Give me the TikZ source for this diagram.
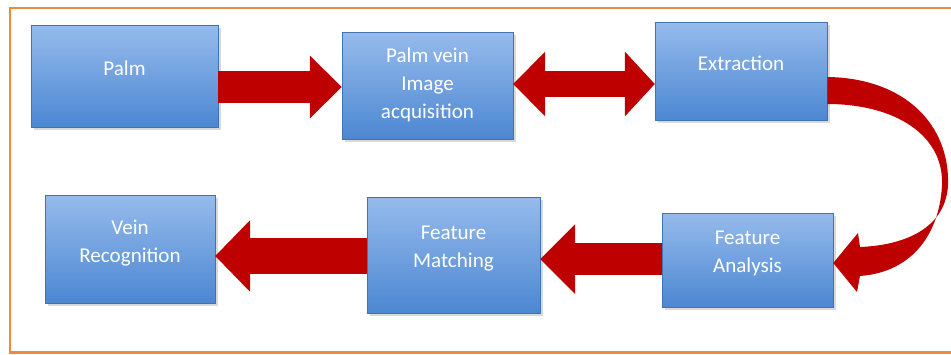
\documentclass[tikz,border=0pt]{standalone}
\usepackage{fontspec}
\setmainfont{Carlito}
\usetikzlibrary{arrows.meta,shadows}
\definecolor{boxtop}{RGB}{150,187,236}
\definecolor{boxbot}{RGB}{76,135,210}
\definecolor{arrowred}{RGB}{190,0,0}
\definecolor{frameorange}{RGB}{236,138,62}
\begin{document}
\begin{tikzpicture}[x=0.02cm, y=-0.02cm,
	box/.style={top color=boxtop, bottom color=boxbot, draw=boxbot!85!black, line width=0.3pt, text=white, align=center, font=\fontsize{12}{16}\selectfont, minimum width=3.44cm, minimum height=2.04cm, text depth=9pt, drop shadow={shadow xshift=1.5pt, shadow yshift=-1.5pt, opacity=0.3}},
	flow/.style={arrowred, line width=#1}]
			\useasboundingbox (0,0) rectangle (951,355);
			\draw[frameorange, line width=0.06cm] (10,8) rectangle (952,352);
			\node[box, minimum width=3.74cm] (palm) at (124.5,76) {Palm};
			\node[box, minimum width=3.42cm, minimum height=2.14cm, text depth=3pt] (acq) at (427.5,85.5) {Palm vein\\Image\\acquisition};
			\node[box, minimum height=1.96cm] (extr) at (741,71) {Extraction};
			\node[box, minimum width=3.4cm, minimum height=2.16cm] (vrec) at (130,249) {Vein\\Recognition};
			\node[box, minimum width=3.46cm, minimum height=2.32cm] (fmatch) at (453.5,255) {Feature\\Matching};
			\node[box, minimum width=3.42cm, minimum height=1.88cm] (fana) at (747.5,260) {Feature\\Analysis};
			\draw[flow=0.66cm, -{Triangle[length=0.64cm, width=1.26cm, line width=0pt]}] (palm.east |- 0,87) -- (acq.west |- 0,87);
			\draw[flow=0.54cm, {Triangle[length=0.64cm, width=1.3cm, line width=0pt]}-{Triangle[length=0.6cm, width=1.3cm, line width=0pt]}] (acq.east |- 0,84) -- (extr.west |- 0,84);
			\fill[arrowred] (extr.east |- 0,77) .. controls (905,78) and (950,125) .. (948,185) .. controls (946,225) and (910,245) .. (860,247) -- (858,233) -- (fana.east |- 0,263) -- (857,292) -- (860,276) .. controls (915,272) and (940,230) .. (942,185) .. controls (944,135) and (895,104) .. (extr.east |- 0,104) -- cycle;
			\draw[flow=0.64cm, -{Triangle[length=0.7cm, width=1.4cm, line width=0pt]}] (fana.west |- 0,259) -- (fmatch.east |- 0,259);
			\draw[flow=0.74cm, -{Triangle[length=0.7cm, width=1.44cm, line width=0pt]}] (fmatch.west |- 0,256) -- (vrec.east |- 0,256);
		\end{tikzpicture}
\end{document}
